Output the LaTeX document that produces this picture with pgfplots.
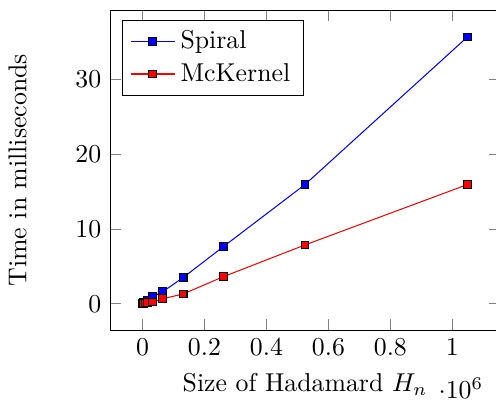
\documentclass[border=0pt]{standalone}
\usepackage{pgfplots}
\pgfplotsset{compat=1.18}
\begin{document}
\begin{tikzpicture}
\begin{axis}[
scale only axis,
width=151pt,
height=124pt,
xlabel={Size of Hadamard $H_n$},
ylabel={Time in milliseconds},
ylabel shift=12pt,
legend pos=north west,
legend cell align=left,
ytick={0,10,20,30},
xtick={0,200000,400000,600000,800000,1000000}]
\addplot[
color=blue,
mark=square*,
mark size=1.5pt,
mark options={fill=blue,draw=black}]
coordinates {
(1024,0.05)(2048,0.1)(4096,0.15)(8192,0.25)(16384,0.45)(32768,0.94)(65536,1.62)(131072,3.5)(262144,7.68)(524288,15.95)(1048576,35.7)};
\addplot[
color=red,
mark=square*,
mark size=1.5pt,
mark options={fill=red,draw=black}]
coordinates {
(1024,0.03)(2048,0.05)(4096,0.08)(8192,0.1)(16384,0.15)(32768,0.23)(65536,0.67)(131072,1.31)(262144,3.64)(524288,7.87)(1048576,15.95)};
\legend{Spiral,McKernel}
\end{axis}
% page cut like the original: a little room above, axis line cut at the right
\pgfresetboundingbox
\path[use as bounding box] (current axis.outer south west)
  rectangle ([xshift=-1.5pt,yshift=4pt]current axis.north east);
\end{tikzpicture}
\end{document}
